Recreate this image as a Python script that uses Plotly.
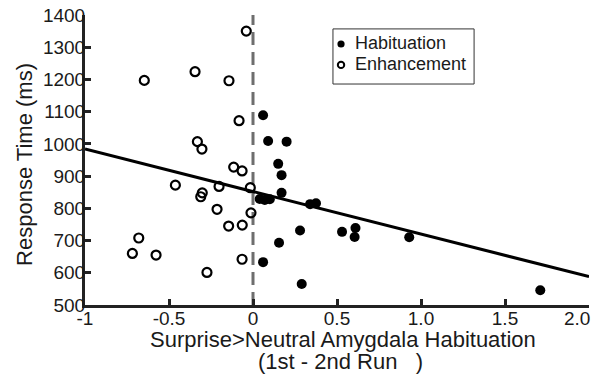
import plotly.graph_objects as go

# Habituation (filled circles)
hab_x = [0.06, 0.09, 0.20, 0.15, 0.17, 0.17, 0.04, 0.07, 0.10, 0.34, 0.375,
         0.28, 0.155, 0.06, 0.29, 0.53, 0.61, 0.605, 0.93, 1.71]
hab_y = [1089, 1009, 1007, 938, 903, 848, 829, 826, 828, 813, 816,
         731, 693, 633, 565, 727, 739, 711, 710, 546]

# Enhancement (open circles)
enh_x = [-0.04, -0.345, -0.647, -0.143, -0.083, -0.331, -0.304, -0.115, -0.065,
         -0.462, -0.202, -0.016, -0.302, -0.311, -0.214, -0.012, -0.145, -0.064,
         -0.68, -0.718, -0.577, -0.065, -0.274]
enh_y = [1350, 1224, 1197, 1196, 1072, 1007, 984, 928, 916,
         872, 868, 864, 848, 836, 797, 786, 745, 748,
         708, 660, 655, 642, 601]

series_names = ["Habituation", "Enhancement"]

# Regression line endpoints
fit_x = [-1.0, 2.0]
fit_y = [984, 588]

# Vertical reference line at zero
ref_x = [0, 0]
ref_y = [500, 1400]

x_ticks = [-1, -0.5, 0, 0.5, 1.0, 1.5, 2.0]
x_ticktext = ["-1", "-0.5", "0", "0.5", "1.0", "1.5", ""]
x_last_label = "2.0"   # drawn separately, nudged inward like the original
y_ticks = [500, 600, 700, 800, 900, 1000, 1100, 1200, 1300, 1400]

x_title_lines = ["Surprise>Neutral Amygdala Habituation",
                 "(1st - 2nd Run\u00a0\u00a0\u00a0)"]
y_title = "Response Time (ms)"

FONT = "Liberation Sans, Arial, Helvetica, sans-serif"
INK = "#1a1a1a"

fig = go.Figure()
fig.add_trace(go.Scatter(x=ref_x, y=ref_y, mode="lines",
                         line=dict(color="#6e6e6e", width=3, dash="13px,7px"),
                         showlegend=False, hoverinfo="skip"))
fig.add_trace(go.Scatter(x=fit_x, y=fit_y, mode="lines",
                         line=dict(color="black", width=3),
                         showlegend=False, hoverinfo="skip"))
fig.add_trace(go.Scatter(x=hab_x, y=hab_y, mode="markers", name=series_names[0],
                         showlegend=False,
                         marker=dict(symbol="circle", size=10, color="black",
                                     line=dict(width=0))))
fig.add_trace(go.Scatter(x=enh_x, y=enh_y, mode="markers", name=series_names[1],
                         showlegend=False,
                         marker=dict(symbol="circle-open", size=9, color="black",
                                     line=dict(width=2.2, color="black"))))

# ---- hand-drawn legend box (matches MATLAB compact legend) ----
shapes = [
    dict(type="rect", xref="paper", yref="paper", x0=0.492, x1=0.772,
         y0=0.762, y1=0.952, line=dict(color="#333333", width=1),
         fillcolor="white", layer="above"),
    dict(type="circle", xref="paper", yref="paper", xsizemode="pixel",
         ysizemode="pixel", xanchor=0.508, yanchor=0.900,
         x0=-3.6, x1=3.6, y0=-3.6, y1=3.6,
         fillcolor="black", line=dict(width=0), layer="above"),
    dict(type="circle", xref="paper", yref="paper", xsizemode="pixel",
         ysizemode="pixel", xanchor=0.508, yanchor=0.828,
         x0=-3.2, x1=3.2, y0=-3.2, y1=3.2,
         fillcolor="white", line=dict(width=2, color="black"), layer="above"),
]
annotations = [
    dict(text=series_names[0], xref="paper", yref="paper", x=0.5315, y=0.903,
         xanchor="left", yanchor="middle", showarrow=False,
         font=dict(size=18, family=FONT, color=INK)),
    dict(text=series_names[1], xref="paper", yref="paper", x=0.5315, y=0.831,
         xanchor="left", yanchor="middle", showarrow=False,
         font=dict(size=18, family=FONT, color=INK)),
    # last x tick label, nudged left so it stays inside the figure
    dict(text=x_last_label, xref="x", yref="paper", x=x_ticks[-1], y=-0.047,
         xanchor="center", yanchor="middle", xshift=-12, showarrow=False,
         font=dict(size=19, family=FONT, color=INK)),
    # axis titles
    dict(text=x_title_lines[0], xref="paper", yref="paper", x=0.512, y=-0.118,
         xanchor="center", yanchor="middle", showarrow=False,
         font=dict(size=22, family=FONT, color=INK)),
    dict(text=x_title_lines[1], xref="paper", yref="paper", x=0.506, y=-0.194,
         xanchor="center", yanchor="middle", showarrow=False,
         font=dict(size=22, family=FONT, color=INK)),
    dict(text=y_title, xref="paper", yref="paper", x=-0.119, y=0.483,
         xanchor="center", yanchor="middle", textangle=-90, showarrow=False,
         font=dict(size=22, family=FONT, color=INK)),
]

fig.update_layout(
    width=601, height=374,
    margin=dict(l=85, r=12, t=15, b=69),
    paper_bgcolor="white", plot_bgcolor="white",
    font=dict(family=FONT, color=INK),
    showlegend=False,
    shapes=shapes,
    annotations=annotations,
    xaxis=dict(range=[-1, 2.0], tickvals=x_ticks, ticktext=x_ticktext,
               automargin=False, ticklabelstandoff=-6,
               showline=True, linewidth=3, linecolor="#222222",
               ticks="inside", ticklen=6, tickwidth=2.5, tickcolor="#222222",
               showgrid=False, zeroline=False,
               tickfont=dict(size=19)),
    yaxis=dict(range=[500, 1400], tickvals=y_ticks, automargin=False,
               ticklabelstandoff=-7,
               showline=True, linewidth=3, linecolor="#222222",
               ticks="inside", ticklen=6, tickwidth=2.5, tickcolor="#222222",
               showgrid=False, zeroline=False,
               tickfont=dict(size=19)),
)

fig.write_html("out.html")
